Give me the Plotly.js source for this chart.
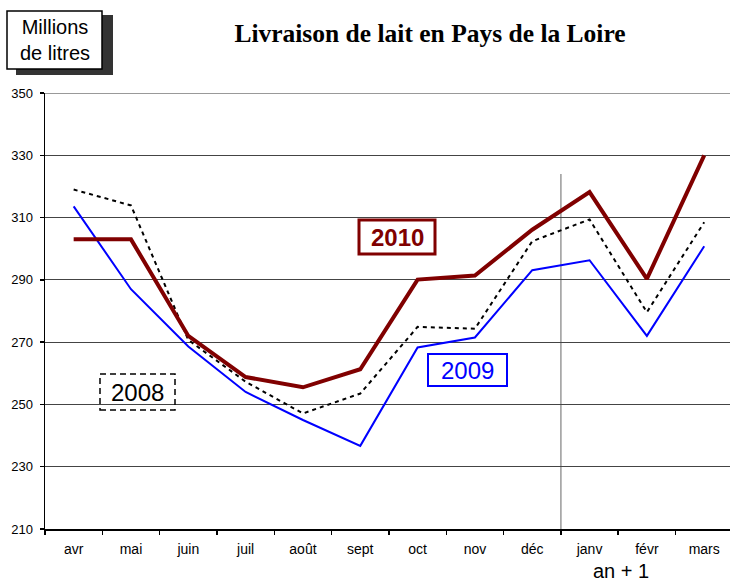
<!DOCTYPE html>
<html>
<head>
<meta charset="utf-8">
<script src="https://cdn.plot.ly/plotly-3.0.1.min.js"></script>
<style>body{margin:0;padding:0;background:#fff}#chart{width:730px;height:578px}</style>
</head>
<body>
<div id="chart"></div>
<script>
const months = ["avr","mai","juin","juil","août","sept","oct","nov","déc","janv","févr","mars"];
const v2010 = [303, 303, 272, 258.8, 255.5, 261.3, 290.1, 291.4, 306.1, 318.2, 290.3, 330];
const v2009 = [313.6, 287, 268.6, 254, 245, 236.7, 268.3, 271.5, 293.1, 296.3, 272, 300.8];
const v2008 = [319, 313.9, 270.7, 257.3, 247.1, 253.5, 274.9, 274.3, 302.4, 309.4, 279.6, 308.5];
const yTicks = [210, 230, 250, 270, 290, 310, 330, 350];

const W = 730, H = 578, L = 45, R = 0, T = 93, B = 49;
const pw = W - L - R, ph = H - T - B;
const px = x => (x - L) / pw;
const py = y => (H - B - y) / ph;
const SANS = "'Liberation Sans', Arial, sans-serif";

const traces = [
  {x: months, y: v2008, type: 'scatter', mode: 'lines', name: '2008',
   line: {color: '#000000', width: 2, dash: '4px,4px'}},
  {x: months, y: v2009, type: 'scatter', mode: 'lines', name: '2009',
   line: {color: '#0000ff', width: 2}},
  {x: months, y: v2010, type: 'scatter', mode: 'lines', name: '2010',
   line: {color: '#800000', width: 4}}
];

function rect(x0, y0, x1, y1, opts) {
  return Object.assign({type: 'rect', xref: 'paper', yref: 'paper',
    x0: px(x0), x1: px(x1), y0: py(y1), y1: py(y0), layer: 'above'}, opts);
}

const layout = {
  width: W, height: H,
  margin: {l: L, r: R, t: T, b: B, pad: 0},
  paper_bgcolor: '#ffffff', plot_bgcolor: '#ffffff',
  showlegend: false,
  font: {family: SANS, color: '#000'},
  title: {text: '<b>Livraison de lait en Pays de la Loire</b>',
    font: {family: "'Liberation Serif', 'Times New Roman', serif", size: 25.5, color: '#000'},
    xref: 'container', yref: 'container', x: 430 / W, y: 1 - 33 / H,
    xanchor: 'center', yanchor: 'middle'},
  xaxis: {type: 'category', range: [-0.5, 11.45], showgrid: false,
    showline: true, linecolor: '#000', linewidth: 1.5,
    ticks: 'outside', tickson: 'boundaries', ticklen: 4, tickcolor: '#000', tickwidth: 1.5,
    ticklabelstandoff: 7,
    tickfont: {family: SANS, size: 14, color: '#000'}, zeroline: false, fixedrange: true},
  yaxis: {range: [210, 350], tickvals: yTicks, ticktext: yTicks.map(String),
    showgrid: true, gridcolor: '#444', gridwidth: 1,
    showline: true, linecolor: '#000', linewidth: 1.5,
    ticks: 'outside', ticklen: 4, tickcolor: '#000', tickwidth: 1.5,
    ticklabelstandoff: 4,
    tickfont: {family: SANS, size: 13, color: '#000'}, zeroline: false, fixedrange: true},
  shapes: [
    {type: 'line', xref: 'x', yref: 'paper', x0: 8.5, x1: 8.5, y0: 0, y1: py(174),
     line: {color: '#999', width: 1.5}, layer: 'below'},
    {type: 'line', xref: 'paper', yref: 'y', x0: 0, x1: 1, y0: 350, y1: 350,
     line: {color: '#999', width: 2}, layer: 'below'},
    rect(16, 15, 113, 75, {fillcolor: '#333', line: {width: 0}}),
    rect(7, 11, 102, 69, {fillcolor: '#fff', line: {color: '#000', width: 1.5}}),
    rect(359, 220, 435, 254, {fillcolor: 'rgba(0,0,0,0)', line: {color: '#800000', width: 3}}),
    rect(428, 354, 507, 386, {fillcolor: 'rgba(0,0,0,0)', line: {color: '#0000ff', width: 2}}),
    rect(100, 374, 175, 410, {fillcolor: 'rgba(0,0,0,0)', line: {color: '#000', width: 1.5, dash: '6px,4px'}})
  ],
  annotations: [
    {xref: 'paper', yref: 'paper', x: px(55), y: py(40), showarrow: false,
     text: 'Millions<br>de litres', font: {family: SANS, size: 20, color: '#000'}, xanchor: 'center', yanchor: 'middle'},
    {xref: 'paper', yref: 'paper', x: px(397), y: py(237), showarrow: false,
     text: '<b>2010</b>', font: {family: SANS, size: 24, color: '#800000'}, xanchor: 'center', yanchor: 'middle'},
    {xref: 'paper', yref: 'paper', x: px(467.5), y: py(370), showarrow: false,
     text: '2009', font: {family: SANS, size: 24, color: '#0000ff'}, xanchor: 'center', yanchor: 'middle'},
    {xref: 'paper', yref: 'paper', x: px(137.5), y: py(392), showarrow: false,
     text: '2008', font: {family: SANS, size: 24, color: '#000'}, xanchor: 'center', yanchor: 'middle'},
    {xref: 'paper', yref: 'paper', x: px(621), y: py(570.5), showarrow: false,
     text: 'an + 1', font: {family: SANS, size: 20, color: '#000'}, xanchor: 'center', yanchor: 'middle'}
  ]
};

Plotly.newPlot('chart', traces, layout, {staticPlot: true, displayModeBar: false});
</script>
</body>
</html>
